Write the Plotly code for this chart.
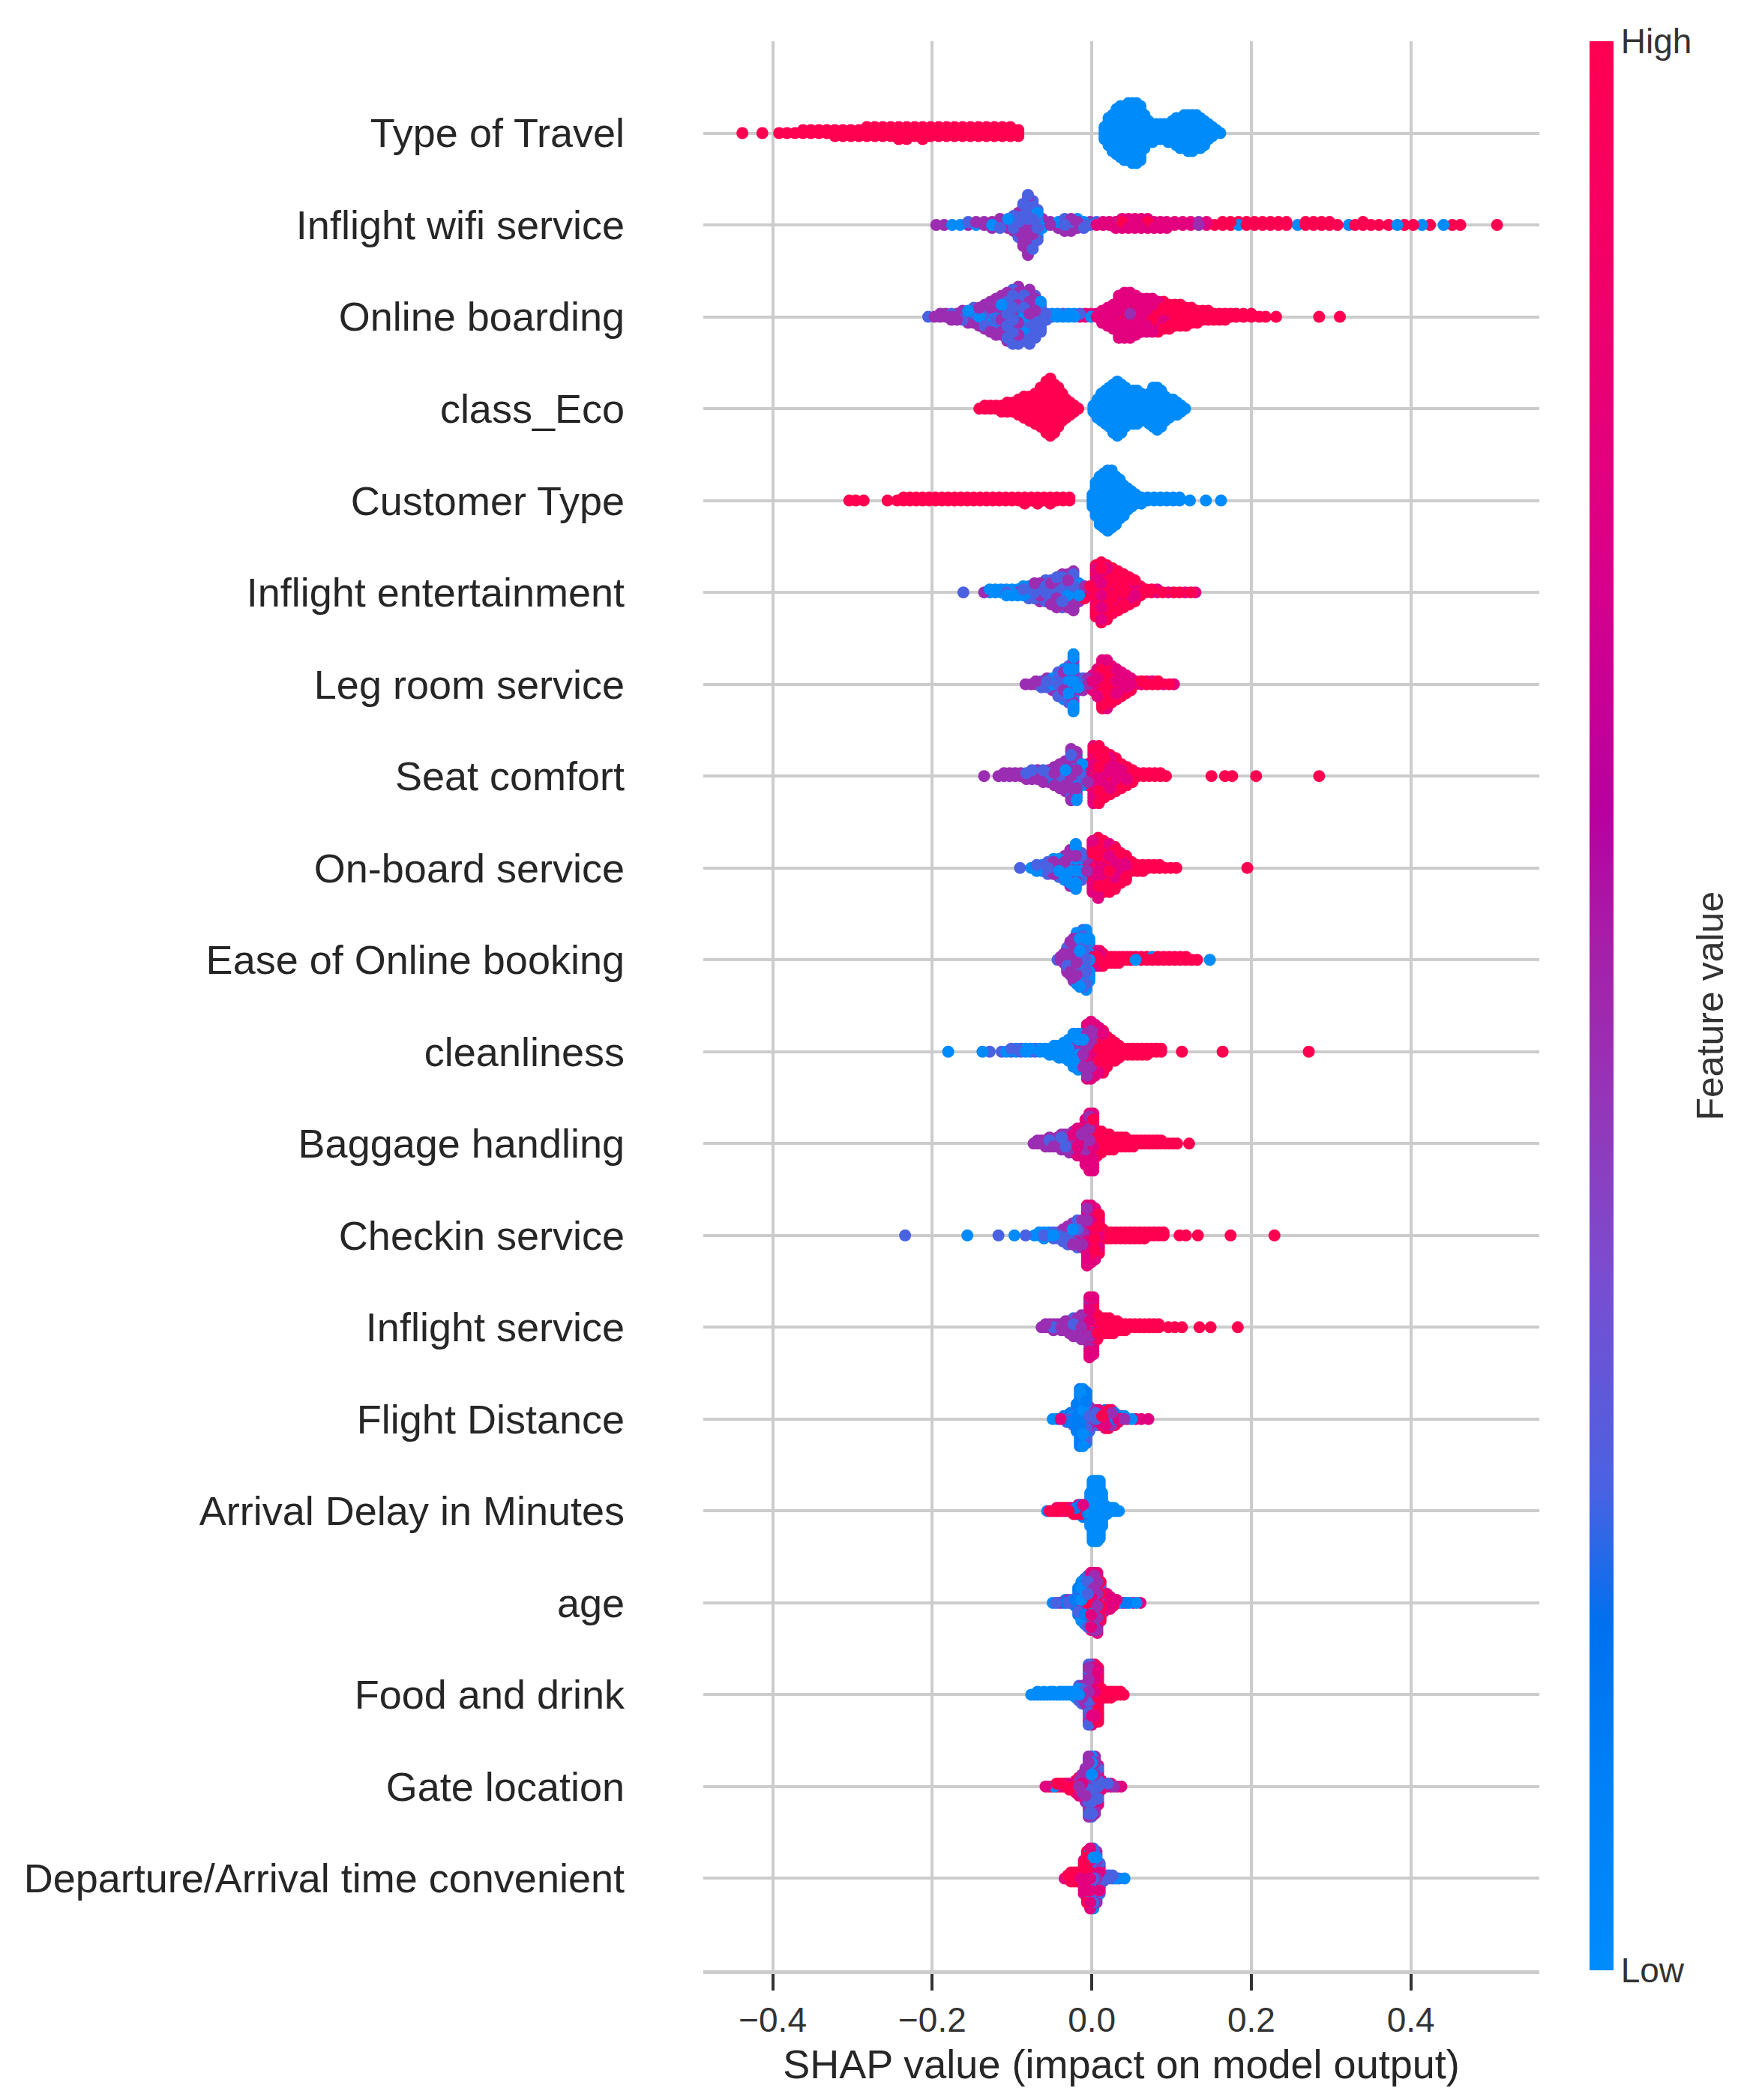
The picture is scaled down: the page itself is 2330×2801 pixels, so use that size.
import math
import plotly.graph_objects as go

feature_names = ["Type of Travel", "Inflight wifi service", "Online boarding", "class_Eco",
                 "Customer Type", "Inflight entertainment", "Leg room service", "Seat comfort",
                 "On-board service", "Ease of Online booking", "cleanliness", "Baggage handling",
                 "Checkin service", "Inflight service", "Flight Distance", "Arrival Delay in Minutes",
                 "age", "Food and drink", "Gate location", "Departure/Arrival time convenient"]

x_ticks = [-0.4, -0.2, 0.0, 0.2, 0.4]
x_tick_text = ["\u22120.4", "\u22120.2", "0.0", "0.2", "0.4"]

# each entry: [shap value, number of dots stacked there, feature value 0..1]
type_of_travel = [[-0.438,1,1],[-0.413,1,1],[-0.392,1,1],[-0.382,1,1],[-0.372,1,1],[-0.362,2,1],[-0.352,2,1],
    [-0.342,2,1],[-0.332,2,1],[-0.322,3,1],[-0.312,3,1],[-0.302,3,1],[-0.292,3,1],[-0.282,4,1],[-0.272,4,1],
    [-0.262,4,1],[-0.252,4,1],[-0.242,5,1],[-0.232,5,1],[-0.222,4,1],[-0.212,5,1],[-0.202,4,1],[-0.192,4,1],
    [-0.182,4,1],[-0.172,4,1],[-0.162,4,1],[-0.152,4,1],[-0.142,4,1],[-0.132,4,1],[-0.122,4,1],[-0.112,4,1],
    [-0.102,4,1],[-0.092,3,1],
    [0.016,5,0],[0.021,10,0],[0.026,13,0],[0.031,16,0],[0.036,18,0],[0.041,19,0],[0.046,20,0],[0.051,21,0],
    [0.056,21,0],[0.061,19,0],[0.066,12,0],[0.071,8,0],[0.076,7,0],[0.081,6,0],[0.086,6,0],[0.091,6,0],
    [0.096,7,0],[0.101,8,0],[0.106,10,0],[0.111,11,0],[0.116,12,0],[0.121,13,0],[0.126,13,0],[0.131,12,0],
    [0.136,11,0],[0.141,9,0],[0.146,6,0],[0.151,4,0],[0.156,2,0],[0.161,1,0]]

inflight_wifi = [[-0.195,1,0.48],[-0.185,1,0.48],[-0.175,1,0],[-0.165,1,0],[-0.155,1,0.48],[-0.155,1,0.25],
    [-0.145,1,0.48],[-0.145,1,0],[-0.135,2,0.48],[-0.125,2,0.48],[-0.125,1,0],[-0.115,2,0.48],[-0.115,2,0.25],
    [-0.105,2,0.48],[-0.105,2,0],[-0.098,3,0.48],[-0.098,3,0.25],[-0.092,5,0.25],[-0.092,4,0.48],
    [-0.086,8,0.48],[-0.086,7,0.25],[-0.080,11,0.48],[-0.080,10,0.25],[-0.074,9,0.25],[-0.074,8,0.48],
    [-0.068,6,0.25],[-0.068,5,0],[-0.062,2,0.48],[-0.062,2,0],[-0.052,2,0.48],[-0.042,2,0.48],[-0.042,1,0],
    [-0.034,3,0.48],[-0.034,2,0.25],[-0.026,3,0.48],[-0.026,2,0.25],[-0.018,2,0.48],[-0.018,2,0],
    [-0.010,2,0.25],[-0.010,1,0],[-0.002,1,0.48],[-0.002,1,0.25],[0.006,1,0.78],[0.006,1,0.25],[0.014,2,0.78],
    [0.022,2,0.78],[0.030,2,0.78],[0.030,1,0.48],[0.038,3,0.78],[0.038,1,1],[0.046,4,0.78],[0.054,4,0.78],
    [0.062,4,0.78],[0.070,3,0.78],[0.070,1,1],[0.078,3,0.78],[0.086,3,0.78],[0.094,2,0.78],[0.094,1,1],
    [0.104,2,0.78],[0.114,2,0.78],[0.124,2,0.78],[0.134,2,0.48],[0.144,2,0.78],[0.154,1,1],
    [0.164,2,1],[0.174,2,1],[0.184,1,0],[0.184,1,1],[0.194,2,1],[0.204,2,1],[0.214,2,1],[0.224,2,1],
    [0.234,2,1],[0.244,2,1],[0.258,1,0],[0.268,2,1],[0.278,2,1],[0.288,2,1],[0.298,2,1],[0.308,1,1],
    [0.322,1,0],[0.330,1,1],[0.340,2,1],[0.350,1,1],[0.360,1,1],[0.372,1,1],[0.383,1,0],[0.392,1,1],
    [0.403,1,1],[0.414,1,0],[0.424,1,1],[0.441,1,0],[0.452,1,1],[0.462,1,1],[0.508,1,1]]

online_boarding = [[-0.205,1,0.25],[-0.197,1,0.48],[-0.190,2,0.48],[-0.183,2,0.48],[-0.176,2,0.48],
    [-0.176,1,0.25],[-0.169,3,0.48],[-0.162,2,0.48],[-0.162,2,0.25],[-0.155,3,0.48],[-0.155,2,0],
    [-0.148,3,0.48],[-0.148,3,0.25],[-0.141,4,0.48],[-0.141,3,0],[-0.134,5,0.48],[-0.134,4,0.25],
    [-0.127,6,0.48],[-0.127,5,0],[-0.120,7,0.48],[-0.120,6,0.25],[-0.113,8,0.48],[-0.113,6,0],
    [-0.106,9,0.48],[-0.106,8,0.25],[-0.099,10,0.25],[-0.099,9,0.48],[-0.092,10,0.48],[-0.092,10,0.25],
    [-0.085,9,0.25],[-0.085,8,0],[-0.078,10,0.25],[-0.078,9,0.48],[-0.071,8,0.25],[-0.071,7,0.48],
    [-0.064,6,0.25],[-0.064,5,0],[-0.057,2,0.25],[-0.057,1,0],[-0.050,2,0],[-0.043,2,0],[-0.036,1,0],
    [-0.036,1,0.25],[-0.029,2,0],[-0.022,2,0],[-0.015,1,0.25],[-0.015,1,0.78],[-0.008,2,0.78],
    [-0.001,1,0.78],[-0.001,1,0],[0.006,2,0.78],[0.013,5,0.78],[0.020,7,0.78],[0.027,9,0.78],
    [0.034,12,0.78],[0.034,3,1],[0.041,14,0.78],[0.041,2,1],[0.048,14,0.78],[0.048,2,0.48],[0.055,12,0.78],
    [0.055,2,1],[0.062,10,0.78],[0.062,2,1],[0.069,9,0.78],[0.069,3,1],[0.076,8,0.78],[0.076,4,1],
    [0.083,5,0.78],[0.083,6,1],[0.090,3,0.78],[0.090,7,1],[0.097,9,1],[0.104,8,1],[0.111,8,1],[0.118,7,1],
    [0.125,6,1],[0.132,5,1],[0.139,4,1],[0.146,4,1],[0.153,3,1],[0.160,3,1],[0.167,3,1],[0.174,2,1],
    [0.181,2,1],[0.190,2,1],[0.200,2,1],[0.210,1,1],[0.218,1,1],[0.231,1,1],[0.285,1,1],[0.311,1,1]]

class_eco = [[-0.141,1,1],[-0.134,2,1],[-0.127,2,1],[-0.120,2,1],[-0.113,3,1],[-0.106,4,1],[-0.099,4,1],
    [-0.092,6,1],[-0.085,8,1],[-0.078,9,1],[-0.071,11,1],[-0.064,14,1],[-0.057,18,1],[-0.052,20,1],
    [-0.047,17,1],[-0.042,14,1],[-0.037,10,1],[-0.032,7,1],[-0.027,5,1],[-0.022,3,1],[-0.017,1,1],
    [0.002,3,0],[0.007,7,0],[0.012,10,0],[0.017,12,0],[0.022,14,0],[0.027,17,0],[0.032,19,0],[0.037,17,0],
    [0.042,14,0],[0.047,11,0],[0.052,12,0],[0.057,12,0],[0.062,10,0],[0.067,8,0],[0.072,11,0],[0.077,14,0],
    [0.082,15,0],[0.087,13,0],[0.092,9,0],[0.097,7,0],[0.102,6,0],[0.107,5,0],[0.112,3,0],[0.117,1,0]]

customer_type = [[-0.304,1,1],[-0.296,1,1],[-0.286,1,1],[-0.256,1,1],[-0.244,1,1],[-0.236,2,1],[-0.228,2,1],
    [-0.220,2,1],[-0.212,2,1],[-0.204,2,1],[-0.196,2,1],[-0.188,2,1],[-0.180,2,1],[-0.172,2,1],[-0.164,2,1],
    [-0.156,2,1],[-0.148,2,1],[-0.140,2,1],[-0.132,2,1],[-0.124,2,1],[-0.116,2,1],[-0.108,2,1],[-0.100,2,1],
    [-0.092,2,1],[-0.084,3,1],[-0.076,2,1],[-0.068,3,1],[-0.060,2,1],[-0.052,3,1],[-0.044,2,1],[-0.036,2,1],
    [-0.028,2,1],
    [0.001,5,0],[0.005,12,0],[0.010,17,0],[0.015,19,0],[0.020,21,0],[0.025,20,0],[0.030,17,0],[0.035,14,0],
    [0.040,11,0],[0.045,8,0],[0.050,6,0],[0.055,4,0],[0.062,3,0],[0.070,2,0],[0.078,2,0],[0.086,2,0],
    [0.094,2,0],[0.102,2,0],[0.110,2,0],[0.123,1,0],[0.143,1,0],[0.162,1,0]]

inflight_entertainment = [[-0.161,1,0.25],[-0.135,1,0.48],[-0.128,2,0],[-0.121,2,0],[-0.114,2,0],
    [-0.107,2,0],[-0.107,1,0.25],[-0.100,3,0],[-0.093,2,0],[-0.093,1,0.48],[-0.086,3,0],[-0.086,1,0.25],
    [-0.079,3,0.25],[-0.079,2,0],[-0.072,3,0.25],[-0.072,3,0.48],[-0.065,4,0.48],[-0.065,3,0.25],
    [-0.058,5,0.25],[-0.058,3,0],[-0.051,5,0.48],[-0.051,4,0.25],[-0.044,6,0.48],[-0.044,5,0.25],
    [-0.037,6,0.25],[-0.037,6,0.48],[-0.030,7,0.48],[-0.030,5,0],[-0.023,8,0.48],[-0.023,6,0.25],
    [-0.016,4,0.48],[-0.016,3,0],[-0.009,3,1],[-0.009,2,0.48],[-0.002,2,1],[-0.002,2,0.78],
    [0.005,10,1],[0.005,8,0.78],[0.012,11,1],[0.012,10,0.78],[0.019,10,1],[0.019,9,0.78],[0.026,9,1],
    [0.026,7,0.78],[0.033,8,1],[0.033,6,0.78],[0.040,7,1],[0.040,5,0.78],[0.047,6,1],[0.047,4,0.78],
    [0.054,5,1],[0.054,3,0.78],[0.061,3,1],[0.061,1,0.78],[0.068,2,1],[0.075,2,1],[0.082,2,0.78],
    [0.089,1,1],[0.096,1,0.78],[0.103,1,1],[0.110,1,1],[0.117,1,0.78],[0.124,1,1],[0.130,1,0.78]]

leg_room = [[-0.083,1,0.48],[-0.076,1,0.48],[-0.070,2,0.48],[-0.063,2,0.25],[-0.063,1,0.48],
    [-0.056,2,0.48],[-0.056,2,0.25],[-0.049,3,0.48],[-0.049,2,0],[-0.042,5,0.25],[-0.042,4,0.48],
    [-0.035,6,0],[-0.035,5,0.48],[-0.029,7,0.25],[-0.029,6,0],[-0.023,11,0],[-0.023,9,0.48],
    [-0.017,3,0.25],[-0.017,2,0],[-0.011,3,0.48],[-0.011,2,0.25],[-0.005,2,0.48],[-0.005,2,0.78],
    [0.001,4,0.78],[0.001,2,1],[0.007,6,0.78],[0.007,4,1],[0.013,9,1],[0.013,8,0.78],[0.019,9,0.78],
    [0.019,8,1],[0.025,7,1],[0.025,6,0.78],[0.031,6,1],[0.031,5,0.78],[0.037,5,1],[0.037,4,0.78],
    [0.043,4,1],[0.043,3,0.78],[0.049,3,1],[0.049,2,0.78],[0.055,2,1],[0.062,1,1],[0.062,1,0.78],
    [0.069,2,1],[0.076,1,0.78],[0.076,1,1],[0.083,2,1],[0.090,1,0.78],[0.097,1,1],[0.103,1,0.78]]

seat_comfort = [[-0.135,1,0.48],[-0.117,1,0.48],[-0.110,2,0.48],[-0.103,2,0.48],[-0.096,2,0.48],
    [-0.089,2,0.48],[-0.082,2,0.48],[-0.082,1,0.25],[-0.075,2,0.48],[-0.075,2,0.25],[-0.068,3,0.48],
    [-0.068,1,0],[-0.061,3,0.48],[-0.061,2,0.25],[-0.054,3,0.48],[-0.054,2,0.25],[-0.047,4,0.48],
    [-0.047,3,0],[-0.040,5,0.48],[-0.040,4,0.25],[-0.033,6,0.48],[-0.033,5,0],[-0.026,10,0.48],
    [-0.026,8,0.25],[-0.019,9,0],[-0.019,8,0.48],[-0.012,5,0],[-0.012,3,0.25],[-0.005,5,0.78],
    [-0.005,3,0.48],[0.002,11,0.78],[0.002,9,1],[0.009,11,1],[0.009,9,0.78],[0.016,9,1],[0.016,7,0.78],
    [0.023,8,1],[0.023,6,0.78],[0.030,7,1],[0.030,5,0.78],[0.037,6,1],[0.037,3,0.78],[0.044,5,1],
    [0.044,2,0.78],[0.051,4,1],[0.051,1,0.78],[0.058,2,1],[0.065,2,1],[0.072,2,1],[0.079,2,1],[0.086,2,1],
    [0.093,1,1],[0.150,1,1],[0.167,1,1],[0.176,1,1],[0.206,1,1],[0.285,1,1]]

onboard_service = [[-0.090,1,0.25],[-0.076,1,0],[-0.069,2,0],[-0.069,1,0.25],[-0.062,2,0],[-0.062,1,0.48],
    [-0.055,3,0.25],[-0.055,2,0],[-0.048,3,0],[-0.048,3,0.48],[-0.041,4,0.25],[-0.041,3,0],[-0.034,5,0],
    [-0.034,4,0.48],[-0.027,7,0.48],[-0.027,6,0],[-0.020,9,0],[-0.020,7,0.48],[-0.013,6,0.25],[-0.013,4,0],
    [-0.006,3,0.48],[-0.006,3,0.78],[0.001,10,0.78],[0.001,8,1],[0.008,11,0.78],[0.008,10,1],[0.015,10,1],
    [0.015,8,0.78],[0.022,9,1],[0.022,8,0.78],[0.029,9,1],[0.029,6,0.78],[0.036,7,1],[0.036,4,0.78],
    [0.043,6,1],[0.043,3,0.78],[0.050,4,1],[0.057,3,1],[0.064,3,1],[0.071,2,1],[0.078,2,1],[0.085,2,1],
    [0.092,1,1],[0.099,1,1],[0.106,1,1],[0.195,1,1]]

ease_online_booking = [[-0.043,1,0.25],[-0.039,2,0.48],[-0.035,3,0.48],[-0.035,1,0.25],[-0.031,5,0.48],
    [-0.031,4,0.25],[-0.027,7,0.48],[-0.027,5,0],[-0.023,9,0.48],[-0.023,6,0.25],[-0.019,10,0],
    [-0.019,8,0.48],[-0.015,11,0],[-0.015,8,0.25],[-0.011,11,0.25],[-0.011,9,0],[-0.007,12,0],
    [-0.007,9,0.25],[-0.003,9,0],[-0.003,6,0.48],[0.002,3,0.78],[0.002,2,1],[0.006,4,0.78],[0.006,2,1],
    [0.010,4,1],[0.010,2,0.78],[0.014,4,1],[0.014,1,0.78],[0.019,3,1],[0.024,3,1],[0.029,3,1],[0.034,3,1],
    [0.039,2,1],[0.044,2,1],[0.049,2,1],[0.055,1,0],[0.055,1,1],[0.062,2,1],[0.069,2,1],[0.076,1,0],
    [0.076,1,1],[0.083,2,1],[0.090,2,1],[0.097,2,1],[0.104,2,1],[0.111,2,1],[0.118,2,1],[0.125,1,1],
    [0.132,1,1],[0.148,1,0]]

cleanliness = [[-0.180,1,0],[-0.137,1,0],[-0.128,1,0.25],[-0.113,1,0.25],[-0.107,1,0],[-0.101,2,0.25],
    [-0.095,2,0],[-0.089,2,0.25],[-0.083,2,0],[-0.077,2,0],[-0.071,2,0.25],[-0.065,2,0],[-0.059,2,0],
    [-0.053,3,0],[-0.047,4,0],[-0.041,5,0],[-0.035,6,0],[-0.029,7,0],[-0.029,1,0.25],[-0.023,10,0],
    [-0.023,2,0.48],[-0.017,11,0],[-0.017,2,0.25],[-0.011,6,0],[-0.011,6,0.48],[-0.006,10,0.78],
    [-0.006,9,0.48],[-0.001,11,0.78],[-0.001,9,0.48],[0.004,11,0.78],[0.004,7,0.48],[0.009,9,0.78],
    [0.009,7,1],[0.014,9,1],[0.014,6,0.78],[0.019,8,1],[0.019,3,0.48],[0.024,8,1],[0.029,7,1],[0.034,5,1],
    [0.039,3,1],[0.045,3,1],[0.051,3,1],[0.057,3,1],[0.063,3,1],[0.069,3,1],[0.075,2,1],[0.081,2,1],
    [0.087,2,1],[0.113,1,1],[0.164,1,1],[0.272,1,1]]

baggage_handling = [[-0.073,1,0.48],[-0.068,2,0.48],[-0.063,2,0.48],[-0.058,3,0.48],[-0.053,3,0.48],
    [-0.053,1,0.25],[-0.048,3,0.48],[-0.043,3,0.48],[-0.043,1,0.25],[-0.038,4,0.48],[-0.038,2,0.25],
    [-0.033,4,0.48],[-0.033,2,0.25],[-0.028,5,0.48],[-0.028,2,0],[-0.023,5,0.48],[-0.023,3,0.78],
    [-0.018,6,0.78],[-0.018,4,0.48],[-0.013,6,0.78],[-0.013,3,0.48],[-0.008,10,0.78],[-0.008,6,0.48],
    [-0.003,11,0.78],[-0.003,9,0.48],[0.002,12,0.78],[0.002,8,1],[0.007,6,1],[0.007,3,0.78],[0.012,6,1],
    [0.012,2,0.78],[0.017,6,1],[0.022,6,1],[0.027,5,1],[0.032,4,1],[0.037,4,1],[0.042,4,1],[0.047,3,1],
    [0.052,3,1],[0.057,2,1],[0.062,2,1],[0.067,2,1],[0.072,2,1],[0.077,2,1],[0.082,2,1],[0.087,2,1],
    [0.092,1,1],[0.097,1,1],[0.102,1,1],[0.107,1,1],[0.122,1,1]]

checkin_service = [[-0.234,1,0.25],[-0.156,1,0],[-0.117,1,0.25],[-0.097,1,0],[-0.083,1,0.25],[-0.072,1,0],
    [-0.066,2,0],[-0.060,2,0],[-0.060,1,0.25],[-0.054,2,0],[-0.048,2,0.25],[-0.048,1,0],[-0.042,3,0.25],
    [-0.036,3,0.25],[-0.036,2,0.48],[-0.030,4,0.25],[-0.030,3,0.48],[-0.024,5,0.48],[-0.024,3,0],
    [-0.018,6,0.25],[-0.018,4,0.48],[-0.012,6,0.48],[-0.012,4,0.78],[-0.006,12,0.78],[-0.006,9,0.48],
    [-0.001,12,0.78],[-0.001,8,1],[0.004,10,0.78],[0.004,8,1],[0.009,8,1],[0.009,6,0.78],[0.014,4,1],
    [0.019,3,1],[0.024,3,1],[0.030,3,1],[0.036,3,1],[0.042,3,1],[0.048,3,1],[0.054,3,1],[0.060,3,1],
    [0.066,3,1],[0.072,2,1],[0.078,2,1],[0.084,2,1],[0.090,2,1],[0.110,1,1],[0.118,1,1],[0.133,1,1],
    [0.174,1,1],[0.229,1,1]]

inflight_service = [[-0.063,1,0.48],[-0.058,2,0.48],[-0.053,2,0.48],[-0.048,2,0.48],[-0.048,1,0.25],
    [-0.043,2,0.48],[-0.038,3,0.48],[-0.033,3,0.48],[-0.033,1,0.25],[-0.028,3,0.48],[-0.028,2,0.78],
    [-0.023,4,0.48],[-0.023,3,0.25],[-0.018,4,0.48],[-0.018,3,0.78],[-0.013,5,0.48],[-0.013,4,0.78],
    [-0.008,5,0.78],[-0.008,4,0.48],[-0.003,12,0.78],[-0.003,9,0.48],[0.002,12,0.78],[0.002,8,1],
    [0.007,6,1],[0.007,3,0.78],[0.012,6,1],[0.017,6,1],[0.022,6,1],[0.027,5,1],[0.032,4,1],[0.037,3,1],
    [0.042,3,1],[0.048,2,1],[0.054,2,1],[0.060,2,1],[0.066,2,1],[0.072,2,1],[0.078,2,1],[0.084,2,1],
    [0.096,1,1],[0.104,1,1],[0.113,1,1],[0.135,1,1],[0.149,1,1],[0.183,1,1]]

flight_distance = [[-0.049,1,0],[-0.043,1,0.12],[-0.039,1,0.78],[-0.035,2,0.12],[-0.031,2,0.25],
    [-0.031,1,0],[-0.027,3,0.12],[-0.027,1,0.48],[-0.023,3,0.25],[-0.023,2,0],[-0.019,6,0.12],
    [-0.019,4,0.25],[-0.015,11,0.12],[-0.015,9,0],[-0.011,11,0],[-0.011,9,0.12],[-0.007,10,0.12],
    [-0.007,8,0.25],[-0.003,5,0.25],[-0.003,4,0.48],[0.001,3,0.48],[0.001,2,0.25],[0.005,3,0.78],
    [0.005,3,0.25],[0.009,3,0.48],[0.009,3,0.78],[0.013,3,1],[0.013,2,0.48],[0.017,4,0.78],[0.017,3,0.12],
    [0.021,4,1],[0.021,3,0.78],[0.025,3,0.48],[0.025,3,0.78],[0.029,3,1],[0.029,2,0.12],[0.033,2,0.78],
    [0.033,1,0],[0.037,2,1],[0.041,1,0.48],[0.041,1,0],[0.045,1,1],[0.050,1,0],[0.055,1,0.78],
    [0.062,1,0.78],[0.071,1,0.78]]

arrival_delay = [[-0.056,1,0],[-0.053,1,1],[-0.050,1,0.78],[-0.047,1,1],[-0.044,2,1],[-0.041,1,0.78],
    [-0.041,1,1],[-0.038,2,1],[-0.035,2,1],[-0.032,1,0.78],[-0.032,1,1],[-0.029,2,1],[-0.026,2,0.78],
    [-0.023,2,1],[-0.023,1,0.25],[-0.020,2,0.78],[-0.020,1,0.12],[-0.017,2,0.12],[-0.017,2,0.78],
    [-0.014,2,0.12],[-0.014,2,1],[-0.011,3,0.12],[-0.011,2,0.78],[-0.008,3,0.12],[-0.008,1,0.48],
    [-0.005,5,0.12],[-0.002,12,0],[0.001,21,0],[0.004,21,0],[0.007,21,0],[0.010,20,0],[0.013,12,0],
    [0.016,4,0],[0.019,3,0],[0.022,2,0],[0.025,2,0],[0.028,2,0],[0.031,1,0],[0.034,1,0]]

age = [[-0.049,1,0],[-0.045,1,0.25],[-0.041,1,0.48],[-0.037,1,0.25],[-0.033,2,0.12],[-0.029,1,0.48],
    [-0.029,1,0.25],[-0.025,2,0.25],[-0.021,2,0.12],[-0.021,1,0.78],[-0.017,6,0.12],[-0.017,4,0.25],
    [-0.013,8,0],[-0.013,6,0.48],[-0.009,9,0.12],[-0.009,7,0.78],[-0.005,10,0.25],[-0.005,8,1],
    [-0.001,11,0.78],[-0.001,9,0.12],[0.003,11,0.48],[0.003,9,0],[0.007,11,0.78],[0.007,10,0.48],
    [0.011,8,1],[0.011,6,0.25],[0.015,4,0.78],[0.015,3,0.48],[0.019,4,0.78],[0.019,2,1],[0.023,3,0.78],
    [0.023,2,0.25],[0.027,3,1],[0.031,2,0.78],[0.035,1,0],[0.039,1,0.78],[0.043,1,0.12],[0.047,1,0],
    [0.052,1,0.78],[0.056,1,0],[0.061,1,0.78]]

food_and_drink = [[-0.076,1,0],[-0.072,1,0],[-0.068,2,0],[-0.064,1,0],[-0.060,2,0],[-0.056,1,0],
    [-0.052,2,0],[-0.048,2,0],[-0.044,1,0],[-0.040,2,0],[-0.036,2,0],[-0.032,2,0],[-0.028,2,0],
    [-0.024,2,0],[-0.020,3,0],[-0.016,4,0.25],[-0.016,2,0],[-0.012,4,0.25],[-0.012,3,0.48],
    [-0.008,4,0.48],[-0.008,3,0.25],[-0.004,11,0.25],[-0.004,10,0.48],[0.000,11,0.78],[0.000,10,0.48],
    [0.004,11,1],[0.004,9,0.78],[0.008,11,1],[0.008,8,0.78],[0.012,4,1],[0.016,3,1],[0.020,3,1],
    [0.024,3,1],[0.028,2,1],[0.032,2,1],[0.036,2,1],[0.040,1,1]]

gate_location = [[-0.058,1,0.78],[-0.054,1,1],[-0.050,1,0.78],[-0.047,1,0],[-0.044,2,1],[-0.040,2,1],
    [-0.036,1,0.78],[-0.036,1,1],[-0.032,2,1],[-0.028,2,1],[-0.028,1,0.78],[-0.024,2,0.78],[-0.024,1,0.25],
    [-0.020,3,1],[-0.020,2,0.48],[-0.016,4,0.78],[-0.016,3,0.48],[-0.012,5,0.48],[-0.012,3,0.78],
    [-0.008,7,0.48],[-0.008,5,0.25],[-0.004,11,0.48],[-0.004,10,0.25],[0.000,11,0.25],[0.000,10,0],
    [0.004,11,0.48],[0.004,9,0.78],[0.008,8,0.78],[0.008,6,0.25],[0.012,3,0.78],[0.012,1,0.25],
    [0.016,2,0.78],[0.020,2,0.25],[0.024,2,0.78],[0.028,1,0.48],[0.032,1,0.78],[0.037,1,0.78]]

departure_arrival = [[-0.034,1,0.78],[-0.030,2,1],[-0.026,3,1],[-0.026,1,0.78],[-0.022,3,1],
    [-0.022,1,0.78],[-0.018,3,1],[-0.018,1,0.78],[-0.014,3,1],[-0.014,1,0.78],[-0.010,7,0.78],
    [-0.010,5,1],[-0.006,10,1],[-0.006,8,0.78],[-0.002,11,0.78],[-0.002,10,0],[0.002,11,0],[0.002,10,0.25],
    [0.006,10,0.48],[0.006,8,0],[0.010,6,0.25],[0.010,5,0.78],[0.014,3,0.25],[0.018,2,0.48],[0.022,2,0.25],
    [0.026,2,0.25],[0.030,1,0],[0.034,1,0.25],[0.041,1,0]]

rows = [type_of_travel, inflight_wifi, online_boarding, class_eco, customer_type, inflight_entertainment,
        leg_room, seat_comfort, onboard_service, ease_online_booking, cleanliness, baggage_handling,
        checkin_service, inflight_service, flight_distance, arrival_delay, age, food_and_drink,
        gate_location, departure_arrival]

red_blue = [[0.0, "#008bfb"], [0.1, "#0080f6"], [0.18, "#0070ee"], [0.25, "#4a62e2"], [0.36, "#7a4dd0"],
            [0.45, "#9535b8"], [0.53, "#a61fa9"], [0.6, "#b800a0"], [0.74, "#dc0087"], [0.88, "#f20068"],
            [1.0, "#ff0051"]]

row_height = 0.4
font = "Liberation Sans, Arial, sans-serif"


def mix(lists, start):
    # centre dot first, then hand out up/down pairs from each colour in turn
    lists = [list(l) for l in lists]
    lists = lists[start % len(lists):] + lists[:start % len(lists)]
    seq = []
    k = 0
    take = 1
    while any(lists):
        l = lists[k % len(lists)]
        if l:
            seq += l[:take]
            del l[:take]
            take = 2
        k += 1
    return seq


def swarm(pile, pos):
    # stack dots sharing a shap value, alternating up and down like shap's beeswarm
    groups = {}
    order = []
    for x, n, c in pile:
        if x not in groups:
            groups[x] = []
            order.append(x)
        groups[x].append([c] * n)
    xs, layers, cs = [], [], []
    for gi, x in enumerate(order):
        for layer, c in enumerate(mix(groups[x], gi)):
            xs.append(x)
            layers.append(math.ceil(layer / 2) * ((layer % 2) * 2 - 1))
            cs.append(c)
    top = max(layers) + 1
    ys = [pos + l * 0.9 * row_height / top for l in layers]
    return xs, ys, cs


n_feat = len(feature_names)
all_x, all_y, all_c = [], [], []
for i, pile in enumerate(rows):
    xs, ys, cs = swarm(pile, n_feat - 1 - i)
    all_x += xs
    all_y += ys
    all_c += cs

# scramble the drawing order (fixed hash) so overlapping dots don't form regular scales
draw = sorted(range(len(all_x)), key=lambda k: (k * 2654435761) % 4294967296)
all_x = [all_x[k] for k in draw]
all_y = [all_y[k] for k in draw]
all_c = [all_c[k] for k in draw]

fig = go.Figure()
fig.add_trace(go.Scatter(
    x=all_x, y=all_y, mode="markers", hoverinfo="skip",
    marker=dict(size=16, color=all_c, colorscale=red_blue, cmin=0, cmax=1, line=dict(width=0),
                showscale=True,
                colorbar=dict(x=1.0605, xanchor="left", y=0.5, yanchor="middle",
                              len=2573, lenmode="pixels", thickness=32, thicknessmode="pixels",
                              outlinewidth=0, xpad=0, ypad=0, ticks="",
                              tickvals=[0, 1], ticktext=["Low", "High"],
                              tickfont=dict(family=font, size=46, color="#333333")))))

fig.add_shape(type="line", x0=0, x1=0, y0=0, y1=1, xref="x", yref="paper",
              line=dict(color="#999999", width=2), layer="below")

fig.add_annotation(text="Feature value", x=1.2036, y=0.5, xref="paper", yref="paper",
                   textangle=-90, showarrow=False, xanchor="center", yanchor="middle",
                   font=dict(family=font, size=50, color="#333333"))

fig.update_layout(
    width=2330, height=2801,
    margin=dict(l=930, r=285, t=47, b=181),
    plot_bgcolor="white", paper_bgcolor="white",
    showlegend=False,
    font=dict(family=font, color="#333333"),
    xaxis=dict(range=[-0.487, 0.561], tickvals=x_ticks, ticktext=x_tick_text,
               showgrid=True, gridcolor="#cccccc", gridwidth=4, zeroline=False,
               showline=True, linecolor="#cccccc", linewidth=5,
               ticks="outside", ticklen=22, tickwidth=4, tickcolor="#333333",
               tickfont=dict(family=font, size=46, color="#333333"),
               title=dict(text="SHAP value (impact on model output)", standoff=16,
                          font=dict(family=font, size=54, color="#262626"))),
    yaxis=dict(range=[-1, n_feat], tickvals=list(range(n_feat)),
               ticktext=feature_names[::-1],
               showgrid=True, gridcolor="#cccccc", gridwidth=4, zeroline=False,
               showline=False, ticks="", ticklabelstandoff=104,
               tickfont=dict(family=font, size=54, color="#262626")),
)

fig.write_html("out.html")
